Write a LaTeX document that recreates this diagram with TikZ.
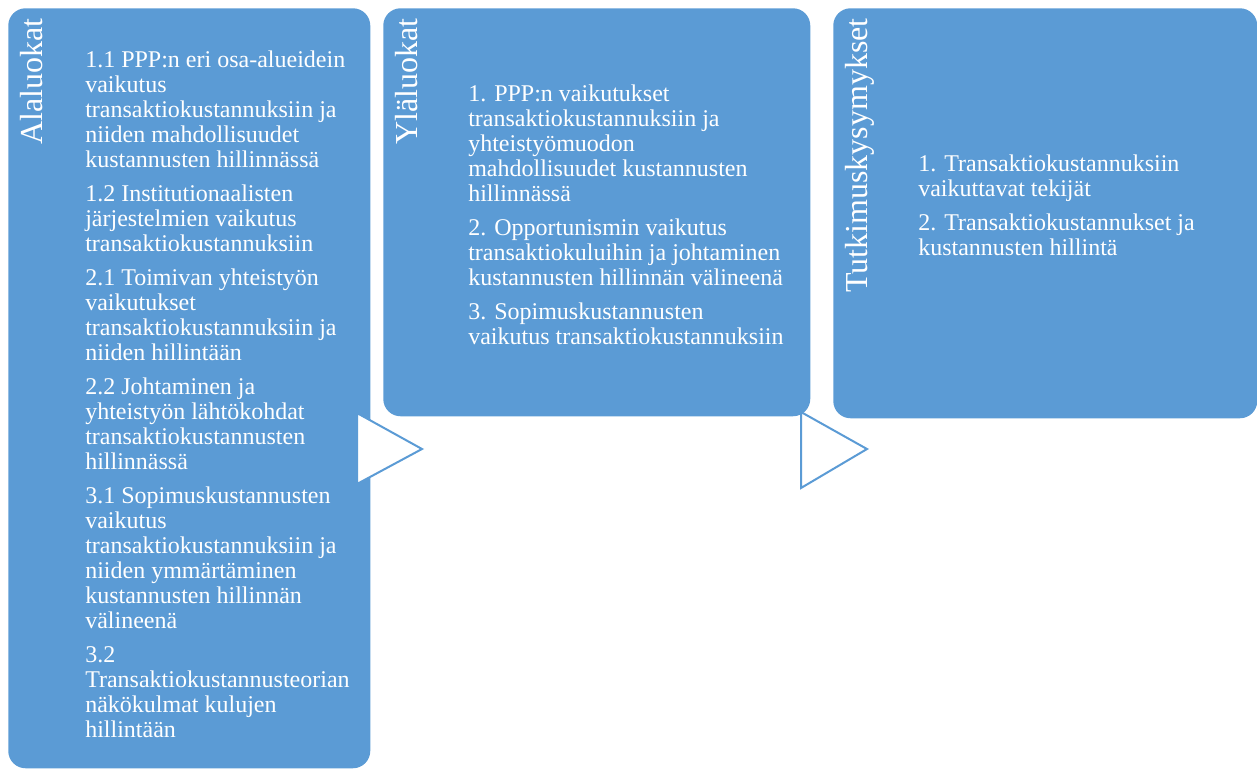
\documentclass[tikz,border=0pt]{standalone}
\usepackage{fontspec}
\setmainfont{Liberation Serif}
\usetikzlibrary{positioning}
\definecolor{accentblue}{HTML}{5B9BD5}
\tikzset{
    cat_box/.style = {rectangle, fill=accentblue, draw=none, rounded corners=13pt,
        anchor=north west, inner sep=0pt},% laatikko
    cat_title/.style = {rotate=90, anchor=base east, inner sep=0pt, white,
        font=\fontsize{24}{28}\selectfont},% pystyotsikko
    cat_text/.style = {anchor=base west, align=left, inner sep=0pt, white,
        font=\fontsize{18}{18.75}\selectfont},% sisalto, ankkuri viimeisella rivilla
    cat_arrow/.style = {draw=accentblue, fill=white, line width=1.5pt, line join=miter},% nuoli
}

\begin{document}
\begin{tikzpicture}[x=0.75pt,y=-0.75pt]
\useasboundingbox (0,0) rectangle (1257,769);
% laatikot
\node (ala) [cat_box, minimum width=271.5pt, minimum height=570pt] at (8,8) {};
\node (yla) [cat_box, minimum width=320.25pt, minimum height=306pt] at (383,8) {};
\node (tut) [cat_box, minimum width=318pt, minimum height=307.5pt] at (833,8) {};
% otsikot
\node (ala_t) [cat_title] at (42,18) {Alaluokat};
\node (yla_t) [cat_title] at (417,18) {Yläluokat};
\node (tut_t) [cat_title] at (867,18) {Tutkimuskysymykset};
% sisalto
\node (ala_x) [cat_text] at (85,737) {1.1 PPP:n eri osa-alueidein\\
    vaikutus\\ transaktiokustannuksiin ja\\ niiden mahdollisuudet\\
    kustannusten hillinnässä\\[6.75pt]
    1.2 Institutionaalisten\\ järjestelmien vaikutus\\ transaktiokustannuksiin\\[6.75pt]
    2.1 Toimivan yhteistyön\\ vaikutukset\\ transaktiokustannuksiin ja\\
    niiden hillintään\\[6.75pt]
    2.2 Johtaminen ja\\ yhteistyön lähtökohdat\\ transaktiokustannusten\\
    hillinnässä\\[6.75pt]
    3.1 Sopimuskustannusten\\ vaikutus\\ transaktiokustannuksiin ja\\
    niiden ymmärtäminen\\ kustannusten hillinnän\\ välineenä\\[6.75pt]
    3.2\\ Transaktiokustannusteorian\\ näkökulmat kulujen\\ hillintään};
\node (yla_x) [cat_text] at (468,344) {1. PPP:n vaikutukset\\
    transaktiokustannuksiin ja\\ yhteistyömuodon\\
    mahdollisuudet kustannusten\\ hillinnässä\\[6.75pt]
    2. Opportunismin vaikutus\\ transaktiokuluihin ja johtaminen\\
    kustannusten hillinnän välineenä\\[6.75pt]
    3. Sopimuskustannusten\\ vaikutus transaktiokustannuksiin};
\node (tut_x) [cat_text] at (918,255) {1. Transaktiokustannuksiin\\
    vaikuttavat tekijät\\[6.75pt]
    2. Transaktiokustannukset ja\\ kustannusten hillintä};
% nuolet
\draw[cat_arrow] (357,413) -- (422,449) -- (357,484) -- cycle;
\draw[cat_arrow] (801,412) -- (867,449) -- (801,488) -- cycle;
\end{tikzpicture}
\end{document}
